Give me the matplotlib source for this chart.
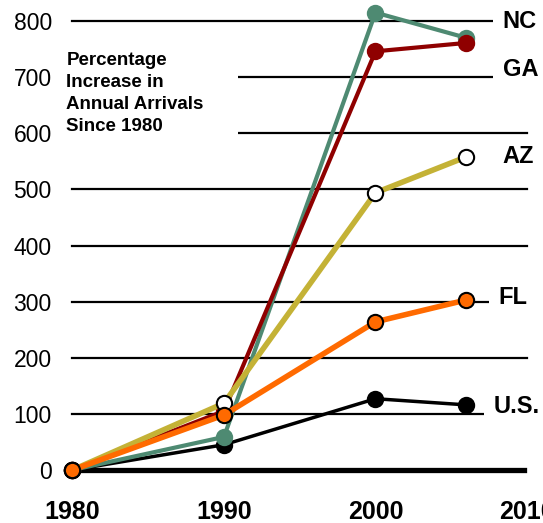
import matplotlib.pyplot as plt
from matplotlib.patches import Rectangle

plt.rcParams['font.family'] = ['Liberation Sans', 'DejaVu Sans']

years = [1980, 1990, 2000, 2006]

# percentage increase in annual arrivals since 1980
us = [0, 45, 127, 116]
nc = [0, 59, 815, 770]
ga = [0, 105, 746, 761]
az = [0, 119, 494, 558]
fl = [0, 98, 264, 303]

series_names = ['U.S.', 'NC', 'GA', 'AZ', 'FL']
series_values = [us, nc, ga, az, fl]
line_colors = ['black', '#4E8A72', '#8F0000', '#C4B236', '#FF6A00']
face_colors = ['black', '#4E8A72', '#8F0000', 'white', '#FF6A00']
edge_colors = ['black', '#4E8A72', '#8F0000', 'black', 'black']
line_widths = [2.5, 3, 3, 4, 4]

# end labels: (x, y) in data units
label_pos = {'NC': (2008.4, 800), 'GA': (2008.4, 713), 'AZ': (2008.4, 558),
             'FL': (2008.1, 308), 'U.S.': (2007.8, 113)}

y_ticks = [0, 100, 200, 300, 400, 500, 600, 700, 800]
x_ticks = [1980, 1990, 2000, 2010]

fig = plt.figure(figsize=(5.43, 5.23), dpi=100)
ax = fig.add_axes([0.1056, 0.0477, 0.8928, 0.9443])
ax.set_xlim(1979.0, 2011.0)
ax.set_ylim(-50, 830)

# horizontal grid lines
for v in y_ticks[1:]:
    ax.plot([1980, 2010], [v, v], color='black', lw=1.6, zorder=1)
ax.plot([1980, 2009.8], [0, 0], color='black', lw=3.8, zorder=1)

# white box behind the note
ax.add_patch(Rectangle((1979.6, 575), 11.3, 195, facecolor='white',
                       edgecolor='none', zorder=2))
ax.text(1979.6, 671, 'Percentage\nIncrease in\nAnnual Arrivals\nSince 1980',
        fontsize=13.5, fontweight='bold', va='center', ha='left',
        linespacing=1.38, zorder=3)

for i in range(len(series_names)):
    ax.plot(years, series_values[i], color=line_colors[i], lw=line_widths[i],
            marker='o', ms=11, markerfacecolor=face_colors[i],
            markeredgecolor=edge_colors[i], markeredgewidth=1.5,
            clip_on=False, zorder=4 + i)

for name in series_names:
    x, y = label_pos[name]
    ax.text(x, y, name, fontsize=17, fontweight='bold',
            va='center', ha='left', zorder=10,
            bbox=dict(boxstyle='square,pad=0.4', facecolor='white',
                      edgecolor='none'))

ax.set_yticks(y_ticks)
ax.set_yticklabels([str(v) for v in y_ticks], fontsize=16.5)
ax.set_xticks(x_ticks)
ax.set_xticklabels([str(v) for v in x_ticks], fontsize=18, fontweight='bold')
ax.tick_params(axis='y', length=0, pad=4)
ax.tick_params(axis='x', length=0, pad=1.5)
for s in ax.spines.values():
    s.set_visible(False)

fig.savefig('out.png', dpi=100)
